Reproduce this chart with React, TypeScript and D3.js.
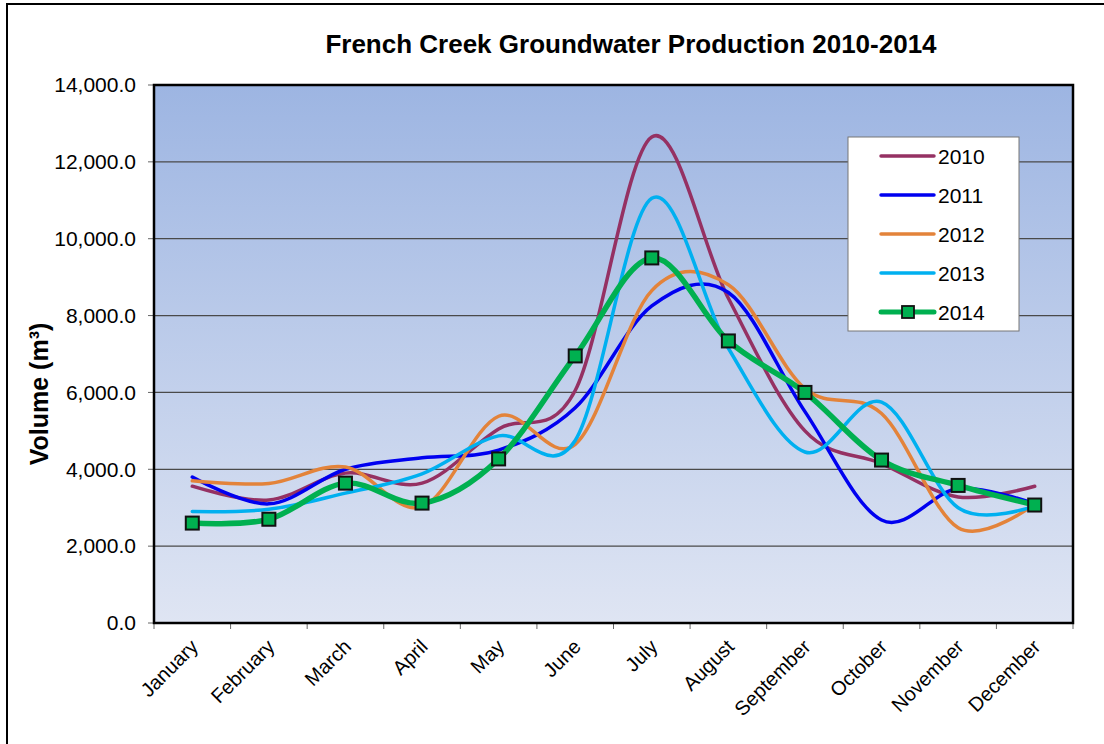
import React from "react";
import * as d3 from "d3";

const months = ["January","February","March","April","May","June","July","August","September","October","November","December"];
const years = ["2010","2011","2012","2013","2014"];
const v2010 = [3560, 3200, 3900, 3640, 5050, 6050, 12650, 8450, 5000, 4150, 3280, 3560];
const v2011 = [3800, 3100, 4000, 4300, 4500, 5600, 8250, 8600, 5500, 2680, 3500, 3100];
const v2012 = [3700, 3630, 4060, 3020, 5380, 4650, 8650, 8800, 6100, 5450, 2480, 3100];
const v2013 = [2900, 2960, 3380, 3880, 4870, 4750, 11050, 7150, 4450, 5750, 3000, 3050];
const v2014 = [2600, 2700, 3640, 3120, 4270, 6950, 9500, 7340, 6000, 4240, 3580, 3070];
const yTicks = [0, 2000, 4000, 6000, 8000, 10000, 12000, 14000];
const colors = ["#953163", "#0000F0", "#E3833A", "#00B0F0", "#00B050"];

const W = 1104, H = 744;
const L = 154, R = 1073, T = 85, B = 623;

export default function App() {
  const x = d3.scaleBand<string>().domain(months).range([L, R]);
  const y = d3.scaleLinear().domain([0, 14000]).range([B, T]);
  const series = [v2010, v2011, v2012, v2013, v2014];
  const line = d3.line<number>()
    .x((_, i) => (x(months[i]) as number) + x.bandwidth() / 2)
    .y((d) => y(d))
    .curve(d3.curveCatmullRom.alpha(0));
  const fmt = d3.format(",.1f");
  const boundaries = d3.range(months.length + 1).map((i) => L + i * x.bandwidth());
  const legX = 848, legY = 137, legW = 171, legH = 194;

  return (
    <svg width={W} height={H} style={{ position: "absolute", left: 0, top: 0, fontFamily: "Liberation Sans, Arial, sans-serif" }}>
      <defs>
        <linearGradient id="bg" x1="0" y1="0" x2="0" y2="1">
          <stop offset="0" stopColor="#9DB5E2" />
          <stop offset="1" stopColor="#DFE5F3" />
        </linearGradient>
        <clipPath id="clip">
          <rect x={L} y={T} width={R - L} height={B - T} />
        </clipPath>
      </defs>
      <rect x={0} y={0} width={W} height={H} fill="#fff" />
      <rect x={7} y={4} width={W + 10} height={H + 10} fill="none" stroke="#000" strokeWidth={2} />
      <text x={631} y={53} textAnchor="middle" fontSize={26} fontWeight="bold">French Creek Groundwater Production 2010-2014</text>

      <rect x={L} y={T} width={R - L} height={B - T} fill="url(#bg)" />
      {yTicks.slice(1).map((t) => (
        <line key={t} x1={L} x2={R} y1={y(t)} y2={y(t)} stroke="#4a4a4a" strokeWidth={1.2} />
      ))}
      {yTicks.map((t) => (
        <g key={"yt" + t}>
          <line x1={L - 6} x2={L} y1={y(t)} y2={y(t)} stroke="#666" strokeWidth={1} />
          <text x={136} y={y(t)} dy="0.35em" textAnchor="end" fontSize={21}>{fmt(t)}</text>
        </g>
      ))}
      {boundaries.map((bx, i) => (
        <line key={"xt" + i} x1={bx} x2={bx} y1={B} y2={B + 6} stroke="#666" strokeWidth={1} />
      ))}
      {months.map((m) => {
        const cx = (x(m) as number) + x.bandwidth() / 2;
        return (
          <text key={m} transform={`translate(${cx + 2},${B + 20}) rotate(-45)`} textAnchor="end" fontSize={20} dy="0.35em">{m}</text>
        );
      })}
      <text transform={`translate(48,${(T + B) / 2 + 40}) rotate(-90)`} textAnchor="middle" fontSize={25} fontWeight="bold">Volume (m³)</text>

      <g clipPath="url(#clip)">
        {series.map((s, k) => (
          <path key={k} d={line(s) || ""} fill="none" stroke={colors[k]} strokeWidth={k === 4 ? 5.5 : 3.5} strokeLinecap="round" />
        ))}
      </g>
      {v2014.map((v, i) => {
        const cx = (x(months[i]) as number) + x.bandwidth() / 2;
        return <rect key={"m" + i} x={cx - 6.5} y={y(v) - 6.5} width={13} height={13} fill="#00B050" stroke="#111" strokeWidth={2} />;
      })}
      <rect x={L} y={T} width={R - L} height={B - T} fill="none" stroke="#000" strokeWidth={2.5} />

      <rect x={legX} y={legY} width={legW} height={legH} fill="#fff" stroke="#777" strokeWidth={1} />
      {years.map((yr, k) => {
        const ly = legY + 19 + k * 39;
        return (
          <g key={yr}>
            <line x1={881} x2={934} y1={ly} y2={ly} stroke={colors[k]} strokeWidth={k === 4 ? 5 : 3.5} strokeLinecap="round" />
            {k === 4 && <rect x={902} y={ly - 6} width={12} height={12} fill="#00B050" stroke="#111" strokeWidth={1.8} />}
            <text x={938} y={ly} dy="0.36em" fontSize={21}>{yr}</text>
          </g>
        );
      })}
    </svg>
  );
}
